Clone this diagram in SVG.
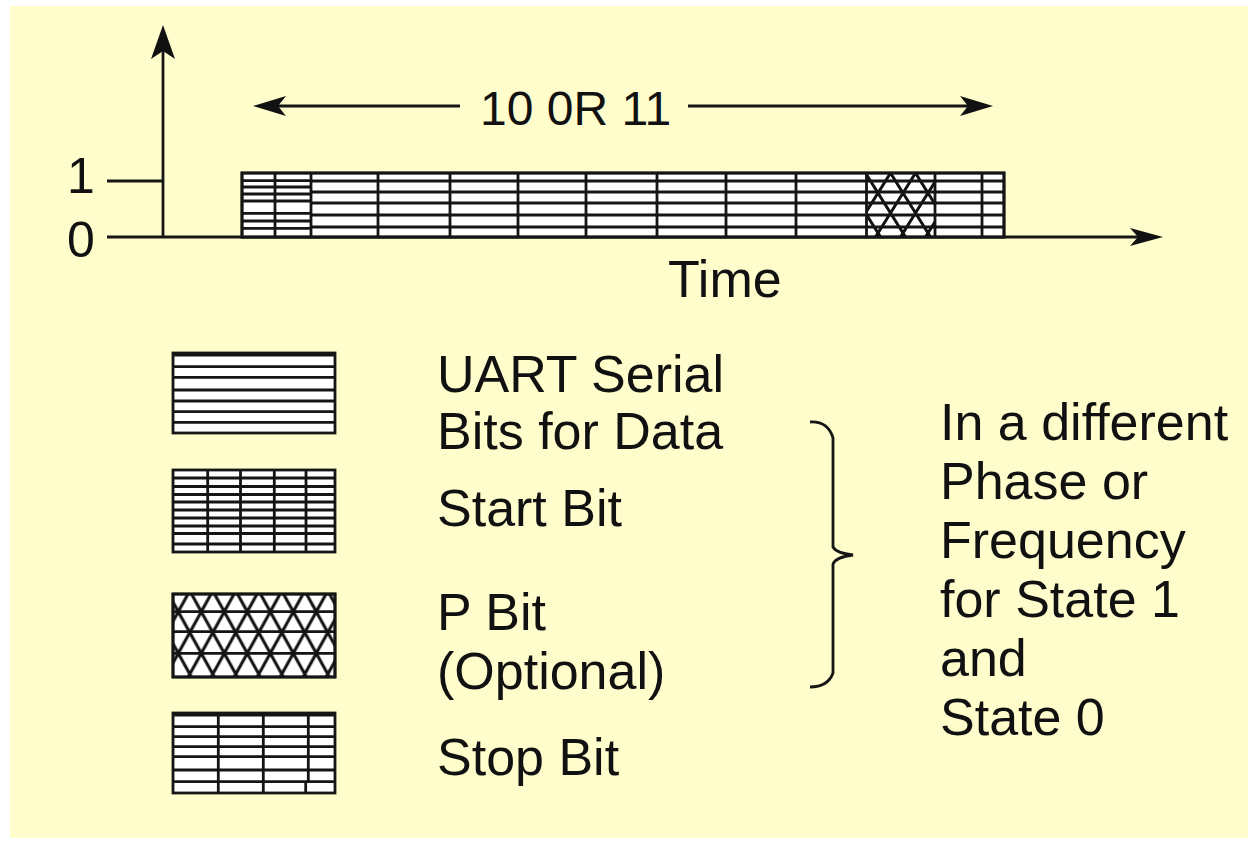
<svg xmlns="http://www.w3.org/2000/svg" width="1248" height="841" viewBox="0 0 1248 841">
<style>
.t{font-family:"Liberation Sans",Arial,sans-serif;fill:#111}
.ln{stroke:#151515;stroke-width:2.8;fill:none}
.box{fill:#fff;stroke:#151515;stroke-width:2.8}
.ah{fill:#111;stroke:none}
</style>
<defs>
<pattern id="xh" patternUnits="userSpaceOnUse" x="178.3" y="611.7" width="23" height="41.6">
<path d="M-11.5,-20.8 L34.5,62.4 M34.5,-20.8 L-11.5,62.4" stroke="#111" stroke-width="3" fill="none"/>
</pattern>
<pattern id="xh2" patternUnits="userSpaceOnUse" x="878" y="193" width="25" height="40">
<path d="M-12.5,-20 L37.5,60 M37.5,-20 L-12.5,60" stroke="#111" stroke-width="3" fill="none"/>
</pattern>
</defs>
<rect x="10" y="6" width="1238" height="832" fill="#FFFDCC"/>

<g id="axes">
<line class="ln" x1="163" y1="50" x2="163" y2="237"/>
<line class="ln" x1="107" y1="181" x2="163" y2="181"/>
<line class="ln" x1="107" y1="237" x2="1140" y2="237"/>
<text class="t" x="67" y="193" font-size="50">1</text>
<text class="t" x="67" y="257" font-size="50">0</text>
<text class="t" x="668" y="297" font-size="52">Time</text>
</g>

<g id="frame-bar">
<rect class="box" x="242" y="173" width="762" height="64"/>
<rect x="866" y="173" width="69" height="64" fill="url(#xh2)"/>
<path class="ln" d="M242,180.7H311 M242,187H311 M242,194H311 M242,201H311 M242,213.3H311 M242,221H311 M242,228.3H311"/>
<path class="ln" d="M311,181H1004 M311,192H1004 M311,203H1004 M311,215H1004 M311,227H1004"/>
<path class="ln" d="M275,173V237 M450,173V237 M586,173V237 M657,173V237 M726,173V237 M796,173V237 M935,173V237 M982,173V237"/>
<line class="ln" x1="311" y1="173" x2="311" y2="237" stroke-width="5"/>
<line class="ln" x1="378" y1="173" x2="378" y2="237" stroke-width="3"/>
<line class="ln" x1="518" y1="173" x2="518" y2="237" stroke-width="4"/>
<line class="ln" x1="866.5" y1="173" x2="866.5" y2="237" stroke-width="4"/>
<rect x="242" y="173" width="762" height="64" fill="none" stroke="#151515" stroke-width="2.8"/>
</g>

<g id="span-label">
<text class="t" x="480" y="125" font-size="48">10 0R 11</text>
</g>

<g id="legend-data">
<rect class="box" x="173" y="353" width="162" height="80"/>
<line class="ln" x1="173" y1="355" x2="335" y2="355" stroke-width="4"/>
<path class="ln" d="M173,366.7H335 M173,377.3H335 M173,390H335 M173,401H335 M173,411.7H335 M173,422.3H335"/>
<text class="t" x="437" y="392" font-size="52">UART Serial</text>
<text class="t" x="437" y="449" font-size="52">Bits for Data</text>
</g>

<g id="legend-start">
<rect class="box" x="173" y="470" width="162" height="82"/>
<path class="ln" d="M173,478H335 M173,486.5H335 M173,494.5H335 M173,502H335 M173,510H335 M173,518H335 M173,526H335 M173,533.5H335 M173,544H335"/>
<path class="ln" d="M207.7,470V552 M240.5,470V552 M274.3,470V552 M306,470V552"/>
<text class="t" x="437" y="526" font-size="52">Start Bit</text>
</g>

<g id="legend-p">
<rect class="box" x="173" y="594" width="162" height="83"/>
<rect x="173" y="594" width="162" height="83" fill="url(#xh)"/>
<path class="ln" d="M173,611.7H335 M173,631.7H335 M173,653.3H335"/>
<rect x="173" y="594" width="162" height="83" fill="none" stroke="#151515" stroke-width="2.8"/>
<text class="t" x="437" y="630" font-size="52">P Bit</text>
<text class="t" x="437" y="689" font-size="52">(Optional)</text>
</g>

<g id="legend-stop">
<rect class="box" x="173" y="713" width="162" height="80"/>
<line class="ln" x1="173" y1="715" x2="335" y2="715" stroke-width="4"/>
<path class="ln" d="M173,726.7H335 M173,736.7H335 M173,746.7H335 M173,756.7H335 M173,770H335 M173,781.7H335"/>
<path class="ln" d="M218.3,713V793 M263.3,713V793 M308.3,713V781.7 M305.7,781.7V793"/>
<text class="t" x="437" y="775" font-size="52">Stop Bit</text>
</g>

<g id="note">
<text class="t" x="940" y="440" font-size="52">In a different</text>
<text class="t" x="940" y="499" font-size="52">Phase or</text>
<text class="t" x="940" y="558" font-size="52">Frequency</text>
<text class="t" x="940" y="617" font-size="52">for State 1</text>
<text class="t" x="940" y="676" font-size="52">and</text>
<text class="t" x="940" y="735" font-size="52">State 0</text>
</g>

<g id="connectors">
<path class="ah" d="M163,25 L175,59 L163,51 L151,59 Z"/>
<path class="ah" d="M1163,237 L1130,246 L1138,237 L1130,228 Z"/>
<line class="ln" x1="270" y1="106" x2="460" y2="106"/>
<path class="ah" d="M253,106 L286,96 L278,106 L286,116 Z"/>
<line class="ln" x1="688" y1="106" x2="976" y2="106"/>
<path class="ah" d="M993,106 L960,96 L968,106 L960,116 Z"/>
<path class="ln" d="M810,422 Q828,421 833,438 L833,547 Q836,553 853,555 Q836,557 833,564 L833,673 Q828,687 810,687"/>
</g>
</svg>
